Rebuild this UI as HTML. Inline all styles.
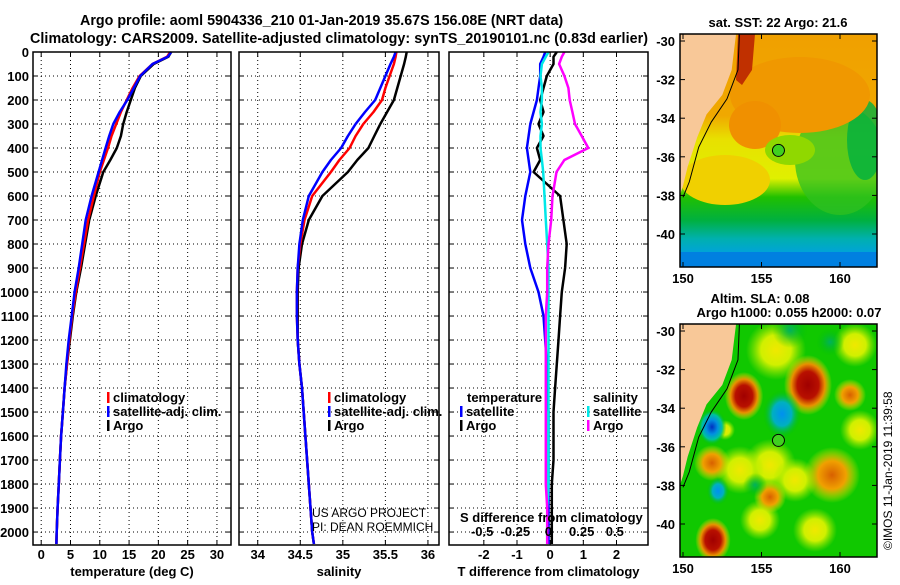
<!DOCTYPE html>
<html><head><meta charset="utf-8"><style>
body{margin:0;background:#fff;}
svg text{font-family:"Liberation Sans",sans-serif;font-weight:bold;font-size:13px;fill:#000;}
svg text.ttl{font-size:14.3px;}
</style></head><body>
<svg id="s" width="900" height="580" viewBox="0 0 900 580" xmlns="http://www.w3.org/2000/svg">
<defs>
<radialGradient id="gRed"><stop offset="0" stop-color="#a00000"/><stop offset="0.45" stop-color="#b81000"/><stop offset="0.7" stop-color="#e89000"/><stop offset="1" stop-color="#f0e000" stop-opacity="0"/></radialGradient>
<radialGradient id="gOr"><stop offset="0" stop-color="#d86000"/><stop offset="0.5" stop-color="#f0a000"/><stop offset="1" stop-color="#f0f000" stop-opacity="0"/></radialGradient>
<radialGradient id="gYel"><stop offset="0" stop-color="#f0e800"/><stop offset="0.5" stop-color="#d0f000"/><stop offset="1" stop-color="#a0e800" stop-opacity="0"/></radialGradient>
<radialGradient id="gBlue"><stop offset="0" stop-color="#0030c0"/><stop offset="0.4" stop-color="#0090e0"/><stop offset="0.7" stop-color="#00c0a0"/><stop offset="1" stop-color="#00c000" stop-opacity="0"/></radialGradient>
<radialGradient id="gCyan"><stop offset="0" stop-color="#0090f0"/><stop offset="0.5" stop-color="#00b0c0"/><stop offset="1" stop-color="#00c000" stop-opacity="0"/></radialGradient>
<radialGradient id="gTeal"><stop offset="0" stop-color="#00b060"/><stop offset="1" stop-color="#00c000" stop-opacity="0"/></radialGradient>
<linearGradient id="sstV" x1="0" y1="0" x2="0" y2="1">
<stop offset="0" stop-color="#f0a000"/><stop offset="0.35" stop-color="#f0a800"/><stop offset="0.45" stop-color="#e8e000"/><stop offset="0.62" stop-color="#e0f000"/><stop offset="0.7" stop-color="#20c000"/><stop offset="0.8" stop-color="#00b040"/><stop offset="0.88" stop-color="#00b0b0"/><stop offset="0.95" stop-color="#00a0e0"/><stop offset="1" stop-color="#0070e0"/></linearGradient>
<clipPath id="c1"><rect x="680" y="34" width="197" height="233"/></clipPath>
<clipPath id="c2"><rect x="680" y="324" width="197" height="233"/></clipPath>
</defs>
<text class="ttl" x="80" y="25">Argo profile: aoml 5904336_210 01-Jan-2019 35.67S 156.08E (NRT data)</text>
<text class="ttl" x="30" y="43" textLength="618">Climatology: CARS2009. Satellite-adjusted climatology: synTS_20190101.nc (0.83d earlier)</text>
<g id="plots"></g>
<g id="maps"></g>
<text transform="translate(892,550) rotate(-90)" style="font-weight:normal;font-size:12px">©IMOS 11-Jan-2019 11:39:58</text>
</svg>
<script>
// ---- data ----
const depths   = [0,20,50,100,150,200,250,300,350,400,450,500,600,700,800,900,1000,1100,1200,1300,1400,1500,1600,1700,1800,1900,2000,2050];
const tempClim = [22.0,21.5,19.0,16.8,15.6,14.6,13.6,12.8,12.0,11.4,10.7,10.0,9.0,8.0,7.3,6.6,5.9,5.3,4.8,4.4,4.0,3.7,3.4,3.2,3.0,2.8,2.65,2.6];
const tempSat  = [22.2,21.6,19.0,16.9,15.8,14.7,13.4,12.3,11.6,11.0,10.4,9.8,8.6,7.6,7.0,6.4,5.7,5.2,4.7,4.3,4.0,3.7,3.4,3.2,3.0,2.8,2.65,2.6];
const tempArgo = [22.2,21.7,19.2,17.0,16.0,15.3,14.6,14.0,13.6,12.9,11.8,10.6,9.3,8.2,7.5,6.8,6.0,5.4,4.9,4.4,4.0,3.7,3.4,3.2,3.0,2.8,2.65,2.6];
const salClim  = [35.63,35.62,35.6,35.55,35.5,35.46,35.36,35.24,35.15,35.08,34.96,34.86,34.64,34.55,34.5,34.47,34.46,34.46,34.47,34.49,34.52,34.54,34.56,34.58,34.6,34.62,34.64,34.66];
const salSat   = [35.62,35.6,35.56,35.5,35.44,35.38,35.26,35.15,35.06,34.98,34.86,34.76,34.6,34.53,34.49,34.47,34.46,34.46,34.47,34.49,34.52,34.54,34.56,34.58,34.6,34.62,34.64,34.66];
const salArgo  = [35.75,35.74,35.72,35.68,35.64,35.6,35.52,35.44,35.37,35.3,35.17,35.06,34.76,34.6,34.52,34.48,34.47,34.47,34.47,34.49,34.52,34.54,34.56,34.58,34.6,34.62,34.64,34.66];
const dTempSat = [-0.15,-0.2,-0.3,-0.3,-0.35,-0.4,-0.5,-0.6,-0.65,-0.7,-0.65,-0.6,-0.75,-0.85,-0.75,-0.6,-0.35,-0.2,-0.15,-0.1,-0.1,-0.05,-0.05,-0.05,-0.05,-0.05,-0.05,-0.05];
const dTempArgo= [0.2,0.1,0.1,-0.1,-0.2,-0.3,-0.2,-0.35,-0.2,-0.4,-0.3,-0.5,0.3,0.4,0.5,0.45,0.35,0.3,0.25,0.2,0.15,0.1,0.1,0.1,0.05,0.05,0.05,0.05];
const dSalSat  = [0.0,-0.02,-0.05,-0.06,-0.05,-0.05,-0.06,-0.05,-0.06,-0.06,-0.05,-0.04,-0.03,-0.02,-0.01,0.0,0.0,0.0,0.0,0.0,0.0,0.0,0.0,0.0,0.0,-0.01,-0.01,-0.01];
const dSalArgo = [0.12,0.1,0.08,0.12,0.15,0.16,0.18,0.2,0.25,0.3,0.12,0.06,0.03,0.02,0.0,-0.01,-0.01,-0.02,-0.02,-0.02,-0.02,-0.02,-0.02,-0.02,-0.02,-0.01,-0.01,-0.01];
const depthTicks = [0,100,200,300,400,500,600,700,800,900,1000,1100,1200,1300,1400,1500,1600,1700,1800,1900,2000];
const tempTicks = [0,5,10,15,20,25,30];
const salTicks = [34,34.5,35,35.5,36];
const dTTicks = [-2,-1,0,1,2];
const dSTicks = [-0.5,-0.25,0,0.25,0.5];
const dSTickLabels = ["-0.5","-0.25","0","0.25","0.5"];
const argoLat = -35.67, argoLon = 156.08;

const NS='http://www.w3.org/2000/svg';
function mk(tag,attrs,parent){const e=document.createElementNS(NS,tag);for(const k in attrs)e.setAttribute(k,attrs[k]);parent.appendChild(e);return e;}
const plots=document.getElementById('plots');
const Y0=52, Y1=545, dMax=2054;
const yS=d=>Y0+d/dMax*(Y1-Y0);
const panels=[
 {x0:33,x1:231,lo:-1.4,hi:32.4,ticks:tempTicks,lab:tempTicks.map(String),title:'temperature (deg C)',name:'temperature-panel'},
 {x0:239,x1:439,lo:33.78,hi:36.13,ticks:salTicks,lab:["34","34.5","35","35.5","36"],title:'salinity',name:'salinity-panel'},
 {x0:449,x1:648,lo:-3.05,hi:2.95,ticks:dTTicks,lab:dTTicks.map(String),title:'T difference from climatology',name:'difference-panel'}];
panels.forEach((p,pi)=>{
 p.xs=v=>p.x0+(v-p.lo)/(p.hi-p.lo)*(p.x1-p.x0);
 const g=mk('g',{},plots);
 
 
 depthTicks.forEach(d=>{const y=yS(d);
  mk('line',{x1:p.x0,x2:p.x1,y1:y,y2:y,stroke:'#000','stroke-dasharray':'1,3'},g);
  mk('line',{x1:p.x0,x2:p.x0+5,y1:y,y2:y,stroke:'#000'},g);
  mk('line',{x1:p.x1-5,x2:p.x1,y1:y,y2:y,stroke:'#000'},g);
  if(pi==0){const t=mk('text',{x:p.x0-4,y:y+5,'text-anchor':'end'},g);t.textContent=d;
   }
 });
 p.ticks.forEach((v,i)=>{const x=p.xs(v);
  mk('line',{x1:x,x2:x,y1:Y0,y2:Y1,stroke:'#000','stroke-dasharray':'1,3'},g);
  mk('line',{x1:x,x2:x,y1:Y1-5,y2:Y1,stroke:'#000'},g);
  mk('line',{x1:x,x2:x,y1:Y0,y2:Y0+5,stroke:'#000'},g);
  const t=mk('text',{x:x,y:Y1+14,'text-anchor':'middle'},g);t.textContent=p.lab[i];
  
 });
 const at=mk('text',{x:(p.x0+p.x1)/2,y:Y1+31,'text-anchor':'middle'},g);at.textContent=p.title;
 
});
function line(p,vals,col,w,name){
 const pts=vals.map((v,i)=>p.xs(v).toFixed(1)+','+yS(depths[i]).toFixed(1)).join(' ');
 const e=mk('polyline',{points:pts,fill:'none',stroke:col,'stroke-width':w,'stroke-linejoin':'round'},plots);
 
}
const [P1,P2,P3]=panels;
line(P1,tempArgo,'#000',2.5,'temp-argo-line');line(P1,tempClim,'#f00',2.5,'temp-clim-line');line(P1,tempSat,'#00f',2.5,'temp-sat-line');
line(P2,salArgo,'#000',2.5,'sal-argo-line');line(P2,salClim,'#f00',2.5,'sal-clim-line');line(P2,salSat,'#00f',2.5,'sal-sat-line');
line(P3,dTempArgo,'#000',2.5,'dtemp-argo-line');line(P3,dTempSat,'#00f',2.5,'dtemp-sat-line');
const sx=v=>P3.x0+(v+0.7500)/(1.5)*(P3.x1-P3.x0);
function sline(vals,col,name){const pts=vals.map((v,i)=>sx(v).toFixed(1)+','+yS(depths[i]).toFixed(1)).join(' ');
 const e=mk('polyline',{points:pts,fill:'none',stroke:col,'stroke-width':2.5},plots);}
sline(dSalSat,'#00e8e8','dsal-sat-line');sline(dSalArgo,'#f0f','dsal-argo-line');
dSTicks.forEach((v,i)=>{const t=mk('text',{x:sx(v),y:536,'text-anchor':'middle'},plots);t.textContent=dSTickLabels[i];
 });
function txt(x,y,s,name,style){const t=mk('text',{x:x,y:y},plots);t.textContent=s;if(style)t.setAttribute('style',style);
 return t;}
txt(460,522,'S difference from climatology','s-axis-title');
panels.forEach(p=>{const r=mk('rect',{x:p.x0,y:Y0,width:p.x1-p.x0,height:Y1-Y0,fill:'none',stroke:'#000','stroke-width':1.5},plots);
 });
function leg(x,y,col,s){mk('rect',{x:x,y:y-10,width:2.5,height:11,fill:col},plots);txt(x+6,y,s,'legend-entry');}
leg(107,402,'#f00','climatology');leg(107,416,'#00f','satellite-adj. clim.');leg(107,430,'#000','Argo');
leg(328,402,'#f00','climatology');leg(328,416,'#00f','satellite-adj. clim.');leg(328,430,'#000','Argo');
txt(467,402,'temperature','legend-title');leg(460,416,'#00f','satellite');leg(460,430,'#000','Argo');
txt(593,402,'salinity','legend-title');leg(587,416,'#00e8e8','satellite');leg(587,430,'#f0f','Argo');
txt(312,517,'US ARGO PROJECT','credit-1','font-weight:normal;font-size:12px');
txt(312,531,'PI: DEAN ROEMMICH','credit-2','font-weight:normal;font-size:12px');

// ---- maps ----
const maps=document.getElementById('maps');
const lonTicks=[150,155,160], latTicks=[-30,-32,-34,-36,-38,-40];
const lx=l=>683+(l-150)*15.7;
function land(g,top){const ly=lat=>top+7+(-30-lat)*19.3;
 const pts=[[149.8,-29.5],[153.4,-29.5],[153.1,-31.5],[152.5,-32.8],[151.5,-33.8],[150.9,-35],[150.3,-36.5],[150.0,-37.5],[149.8,-38]];
 mk('polygon',{points:pts.map(p=>lx(p[0])+','+ly(p[1])).join(' '),fill:'#f8c898'},g);
 const sh=[[153.6,-29.5],[153.5,-31.5],[152.8,-33],[151.8,-34.2],[151,-35.5],[150.4,-37.3],[150.0,-38.1]];
 mk('polyline',{points:sh.map(p=>lx(p[0])+','+ly(p[1])).join(' '),fill:'none',stroke:'#000','stroke-width':1},g);
 return ly;}
function frame(top,bot,name){
 const g=mk('g',{},maps);
 mk('rect',{x:680,y:top,width:197,height:bot-top,fill:'none',stroke:'#000','stroke-width':1.5},g);
 const ly=lat=>top+7+(-30-lat)*19.3;
 latTicks.forEach(l=>{const y=ly(l);mk('line',{x1:680,x2:685,y1:y,y2:y,stroke:'#000'},g);mk('line',{x1:872,x2:877,y1:y,y2:y,stroke:'#000'},g);
  const t=mk('text',{x:675,y:y+5,'text-anchor':'end'},g);t.textContent=l;});
 lonTicks.forEach(l=>{const x=lx(l);mk('line',{x1:x,x2:x,y1:bot-5,y2:bot,stroke:'#000'},g);mk('line',{x1:x,x2:x,y1:top,y2:top+5,stroke:'#000'},g);
  const t=mk('text',{x:x,y:bot+16,'text-anchor':'middle'},g);t.textContent=l;});
 mk('circle',{cx:lx(argoLon),cy:ly(argoLat),r:6,fill:'#40d020',stroke:'#000'},g);
}
// SST map
const g1=mk('g',{'clip-path':'url(#c1)'},maps);

mk('rect',{x:680,y:34,width:197,height:233,fill:'url(#sstV)'},g1);
mk('ellipse',{cx:840,cy:160,rx:45,ry:55,fill:'#30c020',opacity:0.75},g1);
mk('ellipse',{cx:865,cy:140,rx:18,ry:40,fill:'#00b040',opacity:0.8},g1);
mk('ellipse',{cx:800,cy:95,rx:70,ry:38,fill:'#f09800'},g1);
mk('ellipse',{cx:755,cy:125,rx:26,ry:24,fill:'#f09000'},g1);
mk('ellipse',{cx:725,cy:180,rx:45,ry:25,fill:'#f0d000'},g1);
mk('ellipse',{cx:790,cy:150,rx:25,ry:15,fill:'#90d800'},g1);
mk('polygon',{points:'738,34 755,34 752,70 742,85 736,80',fill:'#c03000'},g1);
mk('rect',{x:680,y:252,width:197,height:15,fill:'#0080e0'},g1);
land(g1,34);
const t1=mk('text',{x:778,y:27,'text-anchor':'middle'},maps);t1.textContent='sat. SST: 22 Argo: 21.6';

frame(34,267,'sst-map-frame');
// SLA map
const g2=mk('g',{'clip-path':'url(#c2)'},maps);

mk('rect',{x:680,y:324,width:197,height:233,fill:'#10c800'},g2);
const blobs=[[776,350,30,'gYel'],[770,465,26,'gYel'],[795,480,22,'gYel'],[740,470,24,'gYel'],[815,530,22,'gYel'],[855,345,22,'gYel'],[860,430,20,'gYel'],[760,520,20,'gYel'],[725,430,10,'gYel'],
 [808,385,30,'gRed'],[744,396,24,'gRed'],[713,540,22,'gRed'],[832,475,28,'gOr'],[712,463,18,'gOr'],[770,497,16,'gOr'],[850,395,16,'gOr'],
 [782,414,24,'gCyan'],[712,427,18,'gBlue'],[718,491,14,'gCyan'],[755,485,12,'gTeal'],[790,330,18,'gTeal'],[830,342,14,'gTeal']];
blobs.forEach(b=>{if(b[3]=='gRed'||b[3]=='gBlue'||b[3]=='gCyan')mk('ellipse',{cx:b[0],cy:b[1],rx:b[2]*0.8,ry:b[2],fill:'url(#'+b[3]+')'},g2);else mk('circle',{cx:b[0],cy:b[1],r:b[2],fill:'url(#'+b[3]+')'},g2);});
land(g2,324);
const t2=mk('text',{x:760,y:303,'text-anchor':'middle'},maps);t2.textContent='Altim. SLA: 0.08';

const t3=mk('text',{x:789,y:317,'text-anchor':'middle'},maps);t3.textContent='Argo h1000: 0.055 h2000: 0.07';

frame(324,557,'sla-map-frame');
</script>
</body></html>
